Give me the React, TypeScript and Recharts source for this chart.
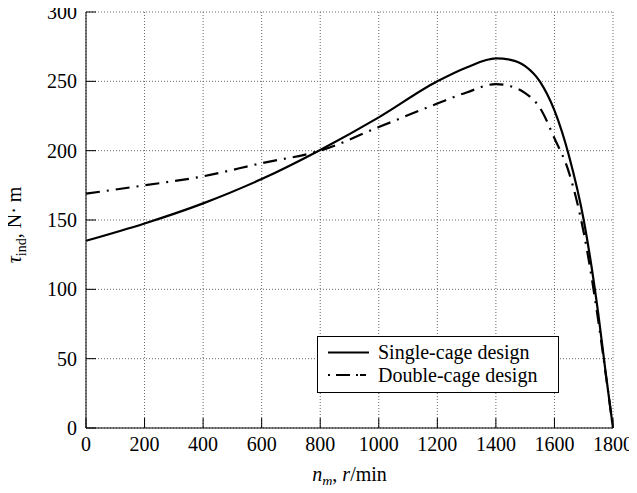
import { CartesianGrid, Legend, Line, LineChart, XAxis, YAxis } from "recharts";

const rpm = [0, 200, 400, 600, 800, 1000, 1200, 1300, 1400, 1450, 1500, 1550, 1600, 1650, 1700, 1750, 1775, 1800];
const singleCage = [135, 147.5, 162, 179.5, 200.5, 224, 250, 260, 266.5, 265.5, 261, 250, 229, 196, 150, 82, 40, 0];
const doubleCage = [169, 175, 181.5, 191, 200, 217, 234, 242, 248, 246.5, 241.5, 231, 209, 184, 141, 77, 39, 0];

const xTicks = [0, 200, 400, 600, 800, 1000, 1200, 1400, 1600, 1800];
const yTicks = [0, 50, 100, 150, 200, 250, 300];

const data = rpm.map((n, i) => ({ rpm: n, single: singleCage[i], double: doubleCage[i] }));

const font = "'Liberation Serif', 'Times New Roman', serif";
const tickStyle = { fontSize: 20, fontFamily: font, fill: "#000" };
const dashDot = "14 7 2 7";

function XTitle() {
  return (
    <text x={349.5} y={481} textAnchor="middle" fontFamily={font} fontSize={20} fill="#000">
      <tspan fontStyle="italic">n</tspan>
      <tspan fontStyle="italic" fontSize={14} dy={5}>m</tspan>
      <tspan dy={-5}>, </tspan>
      <tspan fontStyle="italic">r</tspan>
      <tspan>/min</tspan>
    </text>
  );
}

function YTitle() {
  return (
    <text
      x={21}
      y={225}
      transform="rotate(-90 21 225)"
      textAnchor="middle"
      fontFamily={font}
      fontSize={20}
      fill="#000"
    >
      <tspan fontStyle="italic">τ</tspan>
      <tspan fontSize={14} dy={5}>ind</tspan>
      <tspan dy={-5}>, N· m</tspan>
    </text>
  );
}

function LegendBox() {
  return (
    <svg width={242} height={57} style={{ display: "block" }}>
      <rect x={0.5} y={0.5} width={241} height={56} fill="#fff" stroke="#000" strokeWidth={1} />
      <line x1={11} y1={16.5} x2={52} y2={16.5} stroke="#000" strokeWidth={2.2} />
      <line x1={11} y1={39} x2={52} y2={39} stroke="#000" strokeWidth={2.2} strokeDasharray="2 6 14 6 2" />
      <text x={61} y={22.5} fontFamily={font} fontSize={20} fill="#000">
        Single-cage design
      </text>
      <text x={61} y={45.5} fontFamily={font} fontSize={20} fill="#000">
        Double-cage design
      </text>
    </svg>
  );
}

export default function App() {
  return (
    <div style={{ margin: -8 }}>
      <LineChart width={637} height={493} data={data} margin={{ top: 12, right: 24, bottom: 0, left: 0 }}>
        <CartesianGrid stroke="#666" strokeDasharray="1 2" />
        <XAxis
          dataKey="rpm"
          type="number"
          domain={[0, 1800]}
          ticks={xTicks}
          interval={0}
          height={65}
          tick={tickStyle}
          tickSize={-10}
          tickMargin={19}
          stroke="#000"
          label={<XTitle />}
        />
        <XAxis
          xAxisId="top"
          orientation="top"
          type="number"
          domain={[0, 1800]}
          ticks={xTicks}
          interval={0}
          height={0}
          tick={() => <g />}
          tickSize={-10}
          stroke="#000"
        />
        <YAxis
          type="number"
          domain={[0, 300]}
          ticks={yTicks}
          interval={0}
          width={86}
          tick={tickStyle}
          tickSize={-10}
          tickMargin={19}
          stroke="#000"
          label={<YTitle />}
        />
        <YAxis
          yAxisId="right"
          orientation="right"
          type="number"
          domain={[0, 300]}
          ticks={yTicks}
          interval={0}
          width={0}
          tick={() => <g />}
          tickSize={-10}
          stroke="#000"
        />
        <Legend
          layout="vertical"
          align="center"
          verticalAlign="middle"
          wrapperStyle={{ left: 317, top: 336, width: 242, height: 57 }}
          content={() => <LegendBox />}
        />
        <Line
          type="monotone"
          dataKey="single"
          name="Single-cage design"
          stroke="#000"
          strokeWidth={2.2}
          dot={false}
          isAnimationActive={false}
        />
        <Line
          type="monotone"
          dataKey="double"
          name="Double-cage design"
          stroke="#000"
          strokeWidth={2.2}
          strokeDasharray={dashDot}
          dot={false}
          isAnimationActive={false}
        />
      </LineChart>
    </div>
  );
}
